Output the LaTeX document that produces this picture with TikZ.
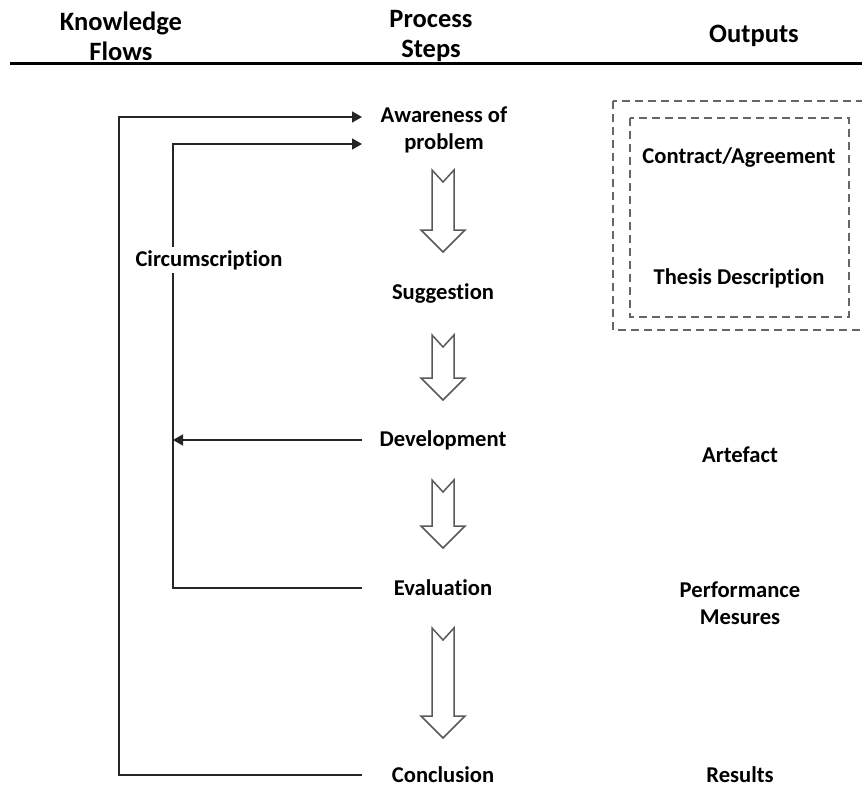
\documentclass[tikz,border=0pt]{standalone}
\usepackage{fontspec}
\setmainfont{Carlito}[Ligatures=CommonOff]
\usetikzlibrary{arrows.meta}
\begin{document}
\begin{tikzpicture}[x=1pt,y=-1pt,
  lbl/.style={font=\bfseries\fontsize{22.6}{27}\selectfont, align=center, inner sep=3pt},
  lastrow/.style={lbl, anchor=base, inner sep=0pt, text depth=0pt},
  head/.style={font=\bfseries\fontsize{26.5}{30}\selectfont, align=center, inner sep=3pt},
  flow/.style={draw=black!85, line width=1.4pt},
  tipped/.style={-{Triangle[length=10pt,width=11pt]}},
  hollow/.style={draw=black!65, fill=white, line width=1.5pt, line join=miter},
  dashbox/.style={draw=black!60, line width=2pt, dash pattern=on 8pt off 5pt}]
\useasboundingbox (0,0) rectangle (862,789);
\begin{scope}
\clip (0,0) rectangle (862,789);

% column headings and rule
\node[head] (hk) at (121,36) {Knowledge\\Flows};
\node[head] (hp) at (431,36) {Process\\Steps};
\node[head] (ho) at (754,36) {Outputs};
\draw[line width=3pt] (10,64) -- (862,64);

% process steps
\node[lbl] (aw)   at (444,130) {Awareness of\\problem};
\node[lbl] (sug)  at (443,293) {Suggestion};
\node[lbl] (dev)  at (443,440) {Development};
\node[lbl] (eval) at (443,588) {Evaluation};
\node[lastrow] (conc) at (443,782.5) {Conclusion};

% outputs
\node[lbl] (ca)   at (739,157) {Contract/Agreement};
\node[lbl] (td)   at (739,278) {Thesis Description};
\node[lbl] (art)  at (740,455) {Artefact};
\node[lbl] (perf) at (740,603) {Performance\\Mesures};
\node[lastrow] (res) at (740,782.5) {Results};

% knowledge flows
\node[lbl] (circ) at (209,260) {Circumscription};
\coordinate (outx) at (119,0);
\coordinate (inx) at (173,0);
\coordinate (stepx) at (362,0);
\coordinate (awin1) at (362,117);
\coordinate (awin2) at (362,144);
\coordinate (concin) at (362,775);

\draw[flow,tipped] (concin) -| (outx |- awin1) -- (awin1);
\draw[flow,tipped] (circ.north -| inx) |- (awin2);
\draw[flow] (circ.south -| inx) |- (eval -| stepx);
\draw[flow,tipped] (dev -| stepx) -- (dev -| inx);

% hollow block arrows between the steps
\foreach \t/\b/\p in {170/230/252, 335/378/400, 480/526/548, 628/716/738}{
  \draw[hollow] (432,\t) -- (443,\t+12) -- (454,\t) -- (454,\b) -- (465,\b)
    -- (443,\p) -- (421,\b) -- (432,\b) -- cycle;
}

% output frames
\draw[dashbox] (613,101) rectangle (880,330);
\draw[dashbox] (630,118) rectangle (849,317);
\end{scope}
\end{tikzpicture}
\end{document}
